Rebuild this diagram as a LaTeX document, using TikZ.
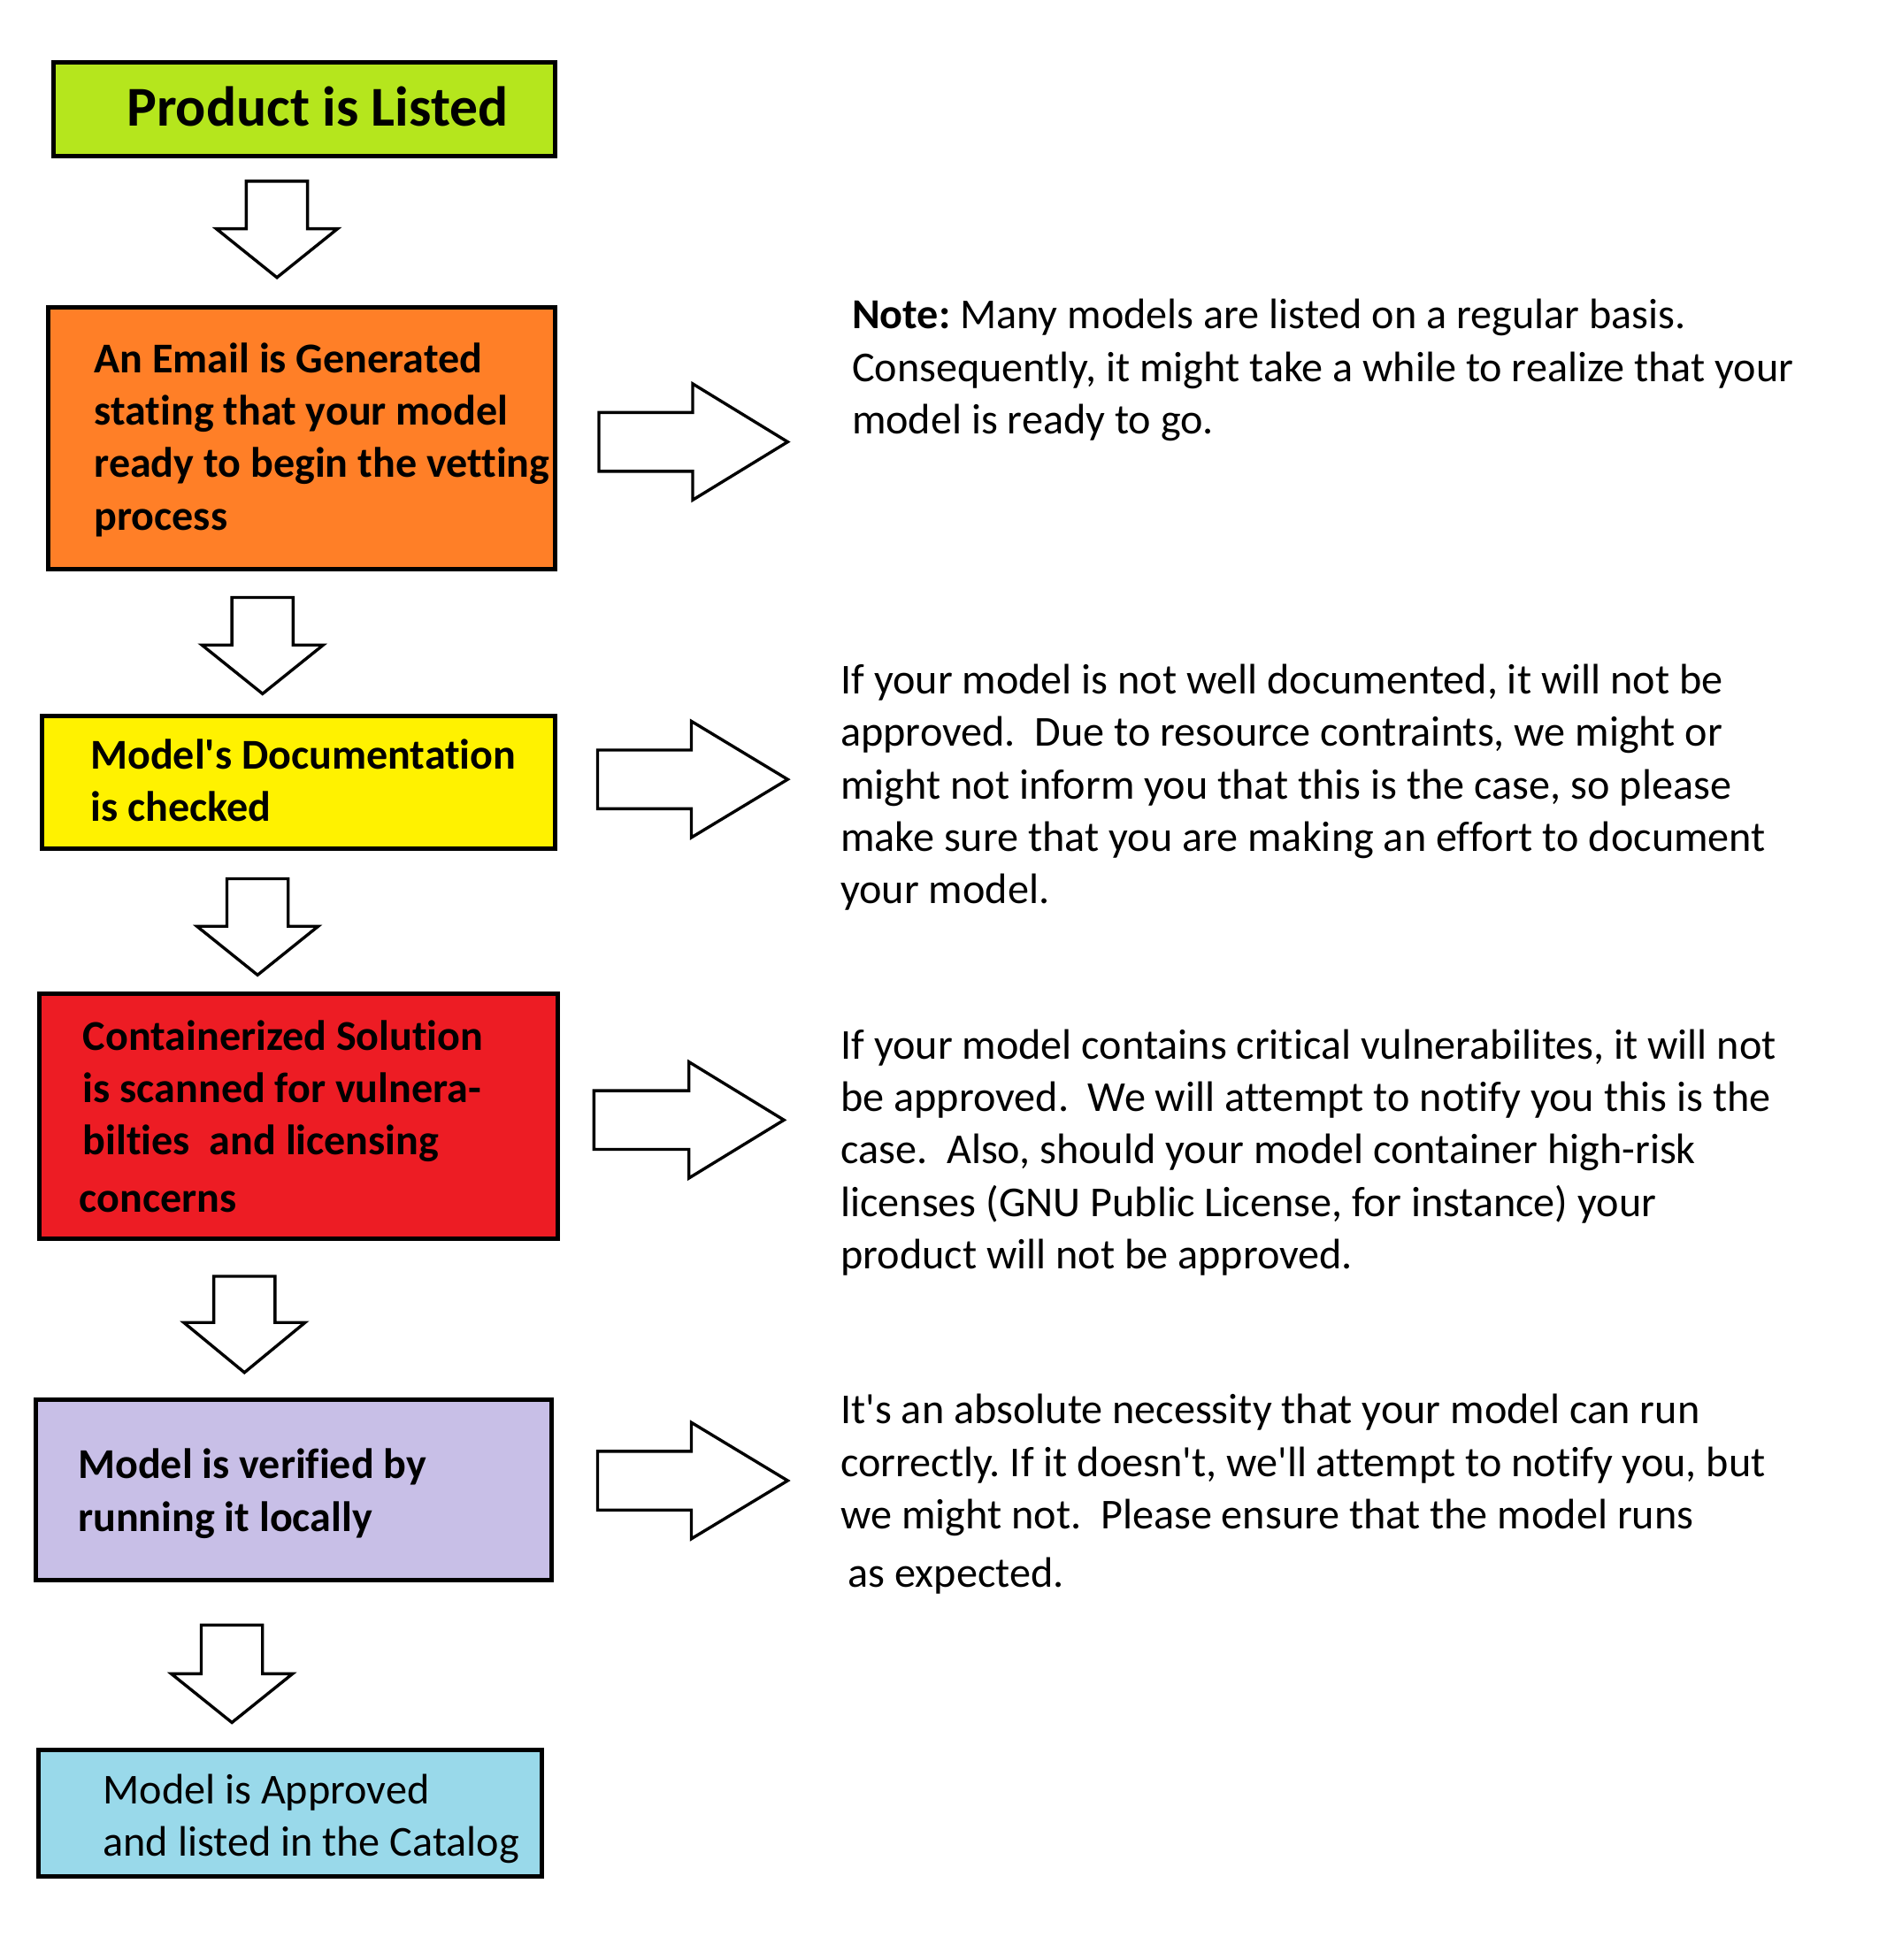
\documentclass[tikz,border=0pt]{standalone}
\usepackage{fontspec}
\setmainfont{Carlito}[Ligatures=NoCommon]
\usetikzlibrary{fit}
\definecolor{cgreen}{RGB}{181,230,29}
\definecolor{corange}{RGB}{255,127,39}
\definecolor{cyellow}{RGB}{255,242,0}
\definecolor{cred}{RGB}{237,28,36}
\definecolor{cpurple}{RGB}{200,191,231}
\definecolor{cblue}{RGB}{153,217,234}
\newcommand\dnarrow[4]{% cx, top, neck, tip
  \draw[blockarrow] (#1-24.5,#2) -- (#1+24.5,#2) -- (#1+24.5,#3) -- (#1+48.5,#3) -- (#1,#4) -- (#1-48.5,#3) -- (#1-24.5,#3) -- cycle;}
\newcommand\rtarrow[4]{% left, cy, neck, tip
  \draw[blockarrow] (#1,#2-23.5) -- (#3,#2-23.5) -- (#3,#2-46.5) -- (#4,#2) -- (#3,#2+46.5) -- (#3,#2+23.5) -- (#1,#2+23.5) -- cycle;}
\newcommand\sq{\textquotesingle}
\frenchspacing
\begin{document}
\begin{tikzpicture}[x=0.5pt,y=-0.5pt,
  box/.style={draw=black, line width=1.8pt, inner sep=0pt, outer sep=0pt},
  blockarrow/.style={draw=black, line width=1.2pt, fill=white, line join=miter},
  boxtext/.style={anchor=base west, inner sep=0pt, align=left, font=\bfseries\fontsize{17}{21}\selectfont},
  titletext/.style={anchor=base west, inner sep=0pt, font=\bfseries\fontsize{22.5}{27}\selectfont},
  plaintext/.style={anchor=base west, inner sep=0pt, align=left, font=\fontsize{17.05}{21}\selectfont}]
\useasboundingbox[fill=white] (0,0) rectangle (1509,1568);

% boxes
\node[box, fill=cgreen,  fit={(42.8,49.8) (444.2,125.2)}] (b1) {};
\node[box, fill=corange, fit={(38.8,245.8) (444.2,455.2)}] (b2) {};
\node[box, fill=cyellow, fit={(33.8,572.8) (444.2,679.2)}] (b3) {};
\node[box, fill=cred,    fit={(31.8,794.8) (446.2,991.2)}] (b4) {};
\node[box, fill=cpurple, fit={(28.8,1119.8) (441.2,1264.2)}] (b5) {};
\node[box, fill=cblue,   fit={(30.8,1399.8) (433.2,1501.2)}] (b6) {};

% box texts (anchor = baseline of the last line)
\node[titletext] (t1) at (101,101) {Product is Listed};
\node[boxtext] (t2) at (75,424) {An Email is Generated\\stating that your model\\ready to begin the vetting\\process};
\node[boxtext] (t3) at (72,657) {Model\sq s Documentation\\is checked};
\node[boxtext] (t4) at (66,970) {Containerized Solution\\is scanned for vulnera-\\bilties\ \ and licensing\\[2pt]\hspace*{-1.5pt}concerns};
\node[boxtext] (t5) at (62,1225) {Model is verified by\\running it locally};
\node[plaintext] (t6) at (82,1485) {Model is Approved\\and listed in the Catalog};

% down arrows
\dnarrow{221.5}{145}{183}{222}
\dnarrow{210}{478}{516}{555}
\dnarrow{206}{703}{741}{780}
\dnarrow{195.5}{1021}{1058}{1098}
\dnarrow{185.5}{1300}{1339}{1378}

% right arrows
\rtarrow{479}{353.5}{554}{630}
\rtarrow{478}{623.5}{553}{630}
\rtarrow{475}{896}{551}{627}
\rtarrow{478}{1184.5}{553}{630}

% notes (anchor = baseline of the last line)
\node[plaintext] (n1) at (681,347) {\textbf{Note:} Many models are listed on a regular basis.\\Consequently, it might take a while to realize that your\\model is ready to go.};
\node[plaintext] (n2) at (672,723) {If your model is not well documented, it will not be\\approved.\ \ Due to resource contraints, we might or\\might not inform you that this is the case, so please\\make sure that you are making an effort to document\\your model.};
\node[plaintext] (n3) at (672,1015) {If your model contains critical vulnerabilites, it will not\\be approved.\ \ We will attempt to notify you this is the\\case.\ \ Also, should your model container high-risk\\licenses (GNU Public License, for instance) your\\product will not be approved.};
\node[plaintext] (n4) at (672,1270) {It\sq s an absolute necessity that your model can run\\correctly. If it doesn\sq t, we\sq ll attempt to notify you, but\\we might not.\ \ Please ensure that the model runs\\[2.5pt]\hspace*{3pt}as expected.};
\end{tikzpicture}
\end{document}
